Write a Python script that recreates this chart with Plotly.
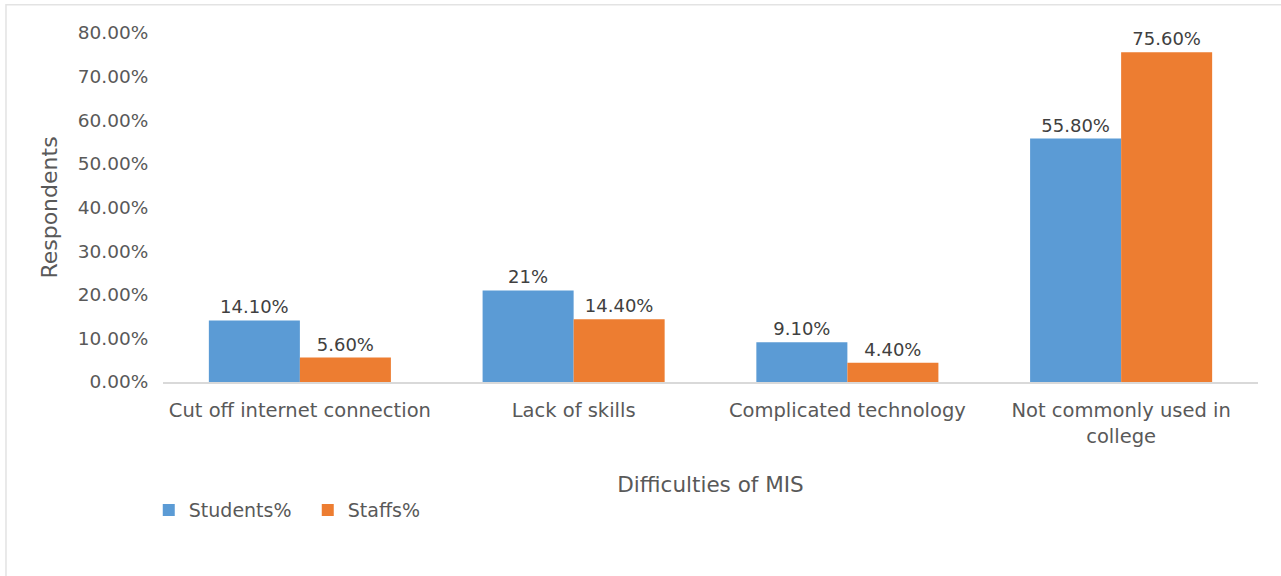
import plotly.graph_objects as go

categories = ["Cut off internet connection", "Lack of skills", "Complicated technology",
              "Not commonly used in<br>college"]
students = [0.141, 0.21, 0.091, 0.558]
staffs = [0.056, 0.144, 0.044, 0.756]
students_labels = ["14.10%", "21%", "9.10%", "55.80%"]
staffs_labels = ["5.60%", "14.40%", "4.40%", "75.60%"]
y_ticks = [0, 0.1, 0.2, 0.3, 0.4, 0.5, 0.6, 0.7, 0.8]

FONT = "DejaVu Sans"
TEXT = "#595959"

fig = go.Figure()
fig.add_trace(go.Bar(
    name="Students%", x=categories, y=students, text=students_labels,
    textposition="outside", marker_color="#5b9bd5", marker_line_width=0,
    textfont=dict(family=FONT, size=18, color="#404040"), cliponaxis=False,
))
fig.add_trace(go.Bar(
    name="Staffs%", x=categories, y=staffs, text=staffs_labels,
    textposition="outside", marker_color="#ed7d31", marker_line_width=0,
    textfont=dict(family=FONT, size=18, color="#404040"), cliponaxis=False,
))

fig.update_layout(
    width=1281, height=576,
    margin=dict(l=163, r=23, t=33, b=194),
    paper_bgcolor="white", plot_bgcolor="white",
    barmode="group", bargap=0.335, bargroupgap=0,
    font=dict(family=FONT, size=18, color=TEXT),
    showlegend=True,
    legend=dict(orientation="h", x=-0.013, xanchor="left", y=-0.367, yanchor="middle",
                font=dict(family=FONT, size=19, color=TEXT), itemwidth=30,
                entrywidth=114, traceorder="normal"),
    xaxis=dict(
        showgrid=False, showline=True, linecolor="#d9d9d9", linewidth=1.5,
        ticks="outside", ticklen=10, tickcolor="rgba(0,0,0,0)",
        tickfont=dict(family=FONT, size=19.5, color=TEXT),
        title=dict(text="Difficulties of MIS", font=dict(family=FONT, size=21.5, color=TEXT),
                   standoff=30),
        zeroline=False,
    ),
    yaxis=dict(
        range=[0, 0.8], tickvals=y_ticks, tickformat=".2%",
        showgrid=False, zeroline=False, showline=False,
        ticks="outside", ticklen=10, tickcolor="rgba(0,0,0,0)",
        tickfont=dict(family=FONT, size=18.5, color=TEXT),
        title=dict(text="Respondents", font=dict(family=FONT, size=22, color=TEXT),
                   standoff=14),
    ),
    shapes=[dict(type="rect", xref="paper", yref="paper",
                 x0=-0.1434, x1=1.2, y0=-1.0, y1=1.081,
                 line=dict(color="#e3e3e3", width=1.5), fillcolor="rgba(0,0,0,0)",
                 layer="below")],
)

fig.write_html("out.html")
